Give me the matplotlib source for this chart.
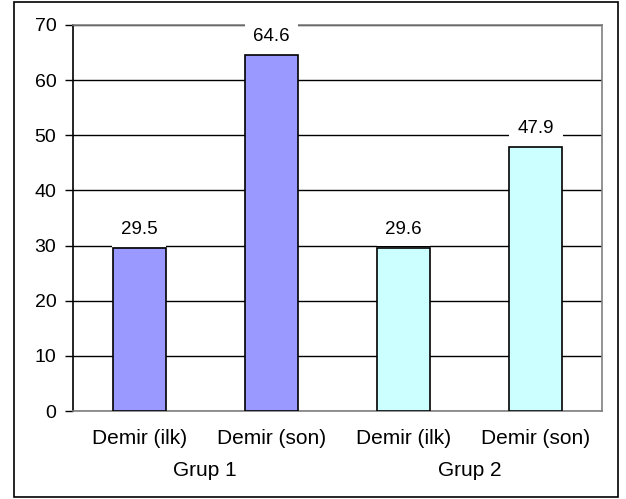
import matplotlib
matplotlib.use("Agg")
import matplotlib.pyplot as plt
from matplotlib.patches import Rectangle
import matplotlib.transforms as mtransforms

# data
categories = ["Demir (ilk)", "Demir (son)", "Demir (ilk)", "Demir (son)"]
groups = ["Grup 1", "Grup 2"]
values = [29.5, 64.6, 29.6, 47.9]
bar_colors = ["#9999FF", "#9999FF", "#CCFFFF", "#CCFFFF"]
yticks = [0, 10, 20, 30, 40, 50, 60, 70]

plt.rcParams['font.family'] = ['Liberation Sans', 'DejaVu Sans']

fig = plt.figure(figsize=(6.26, 4.99), dpi=100)
ax = fig.add_axes([73 / 626, 88 / 499, 529 / 626, 386 / 499])

x = list(range(len(values)))
ax.bar(x, values, width=0.4, color=bar_colors, edgecolor='black', linewidth=1.2, zorder=3)

# value labels with white box (they cut the gridlines)
for xi, v in zip(x, values):
    ax.annotate(f"{v:.1f}", (xi, v), xytext=(0, 10), textcoords='offset points',
                ha='center', va='baseline', fontsize=13.5,
                bbox=dict(boxstyle='square,pad=0.45', fc='white', ec='none'), zorder=4)

ax.set_xlim(-0.5, 3.5)
ax.set_ylim(0, 70)
ax.set_yticks(yticks)
ax.set_yticklabels([str(t) for t in yticks], fontsize=14)
ax.yaxis.grid(True, color='black', linewidth=1.0, zorder=0)
ax.set_axisbelow(True)

ax.set_xticks(x)
ax.set_xticklabels(categories, fontsize=15)
ax.tick_params(axis='x', length=0, pad=13)
ax.tick_params(axis='y', length=6, width=1.0, direction='out', pad=6)

for side in ['top', 'right', 'bottom']:
    ax.spines[side].set_color('#808080')
    ax.spines[side].set_linewidth(1.2)
ax.spines['left'].set_color('black')
ax.spines['left'].set_linewidth(1.2)

# group labels under the category labels
trans = mtransforms.blended_transform_factory(ax.transData, ax.transAxes)
for gi, g in enumerate(groups):
    ax.text(gi * 2 + 0.5, -0.153, g, transform=trans, ha='center', va='center', fontsize=15)

# outer chart border
fig.patches.append(Rectangle((14 / 626, 2 / 499), 604 / 626, 495 / 499,
                             transform=fig.transFigure, fill=False,
                             edgecolor='black', linewidth=1.2))

plt.savefig("out.png", dpi=100)
